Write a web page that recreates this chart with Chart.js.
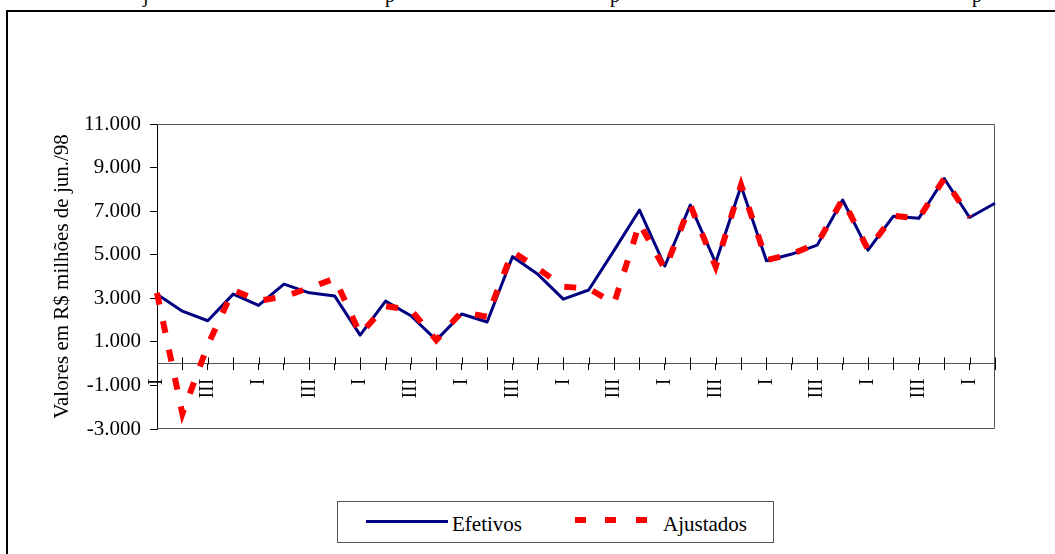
<!DOCTYPE html>
<html>
<head>
<meta charset="utf-8">
<script src="https://cdn.jsdelivr.net/npm/chart.js@4.4.3/dist/chart.umd.min.js"></script>
<style>
  html, body { margin: 0; padding: 0; background: #fff; overflow: hidden; }
  #wrap { position: relative; width: 1055px; height: 554px; overflow: hidden; font-family: 'Liberation Serif', serif; color: #000; }
  #frame { position: absolute; left: 6px; top: 10px; width: 1200px; height: 700px; border-left: 2px solid #000; border-top: 2px solid #000; }
  #chart { position: absolute; left: 0; top: 0; }
  .cut { position: absolute; top: -15px; font-size: 20px; line-height: 20px; }
  #legend { position: absolute; left: 337px; top: 501px; width: 435px; height: 40px; border: 1px solid #555; background: #fff; font-size: 21px; line-height: 21px; }
  #legend .txt { position: absolute; top: 12px; }
  #legend .solid { position: absolute; left: 28px; top: 18px; width: 82px; height: 3px; background: #000080; }
  #legend .dash { position: absolute; top: 15px; width: 11px; height: 6px; background: #ff0000; }
</style>
</head>
<body>
<div id="wrap">
  <span class="cut" style="left:143px">j</span>
  <span class="cut" style="left:385px">p</span>
  <span class="cut" style="left:610px">p</span>
  <span class="cut" style="left:972px">p</span>
  <div id="frame"></div>
  <canvas id="chart" width="1055" height="554"></canvas>
  <div id="legend">
    <div class="solid"></div>
    <span class="txt" style="left:114px">Efetivos</span>
    <div class="dash" style="left:237px"></div>
    <div class="dash" style="left:267px"></div>
    <div class="dash" style="left:298px"></div>
    <span class="txt" style="left:325px">Ajustados</span>
  </div>
</div>
<script>
// trimestres (I a IV), a partir do 1º trimestre
const quarters = [
  'I', 'II', 'III', 'IV', 'I', 'II', 'III', 'IV', 'I', 'II', 'III', 'IV',
  'I', 'II', 'III', 'IV', 'I', 'II', 'III', 'IV', 'I', 'II', 'III', 'IV',
  'I', 'II', 'III', 'IV', 'I', 'II', 'III', 'IV', 'I', 'II'
];

const efetivos = [
  3180, 2410, 1970, 3190, 2670, 3650, 3250, 3100, 1310, 2870, 2200, 1080,
  2280, 1910, 4910, 4100, 2960, 3380, 5200, 7050, 4480, 7280, 4630, 8150,
  4720, 5030, 5440, 7510, 5210, 6770, 6670, 8500, 6710, 7360
];

const ajustados = [
  3250, -2300, 850, 3380, 2890, 3070, 3480, 3910, 1360, 2640, 2460, 1080,
  2380, 2150, 5140, 4370, 3530, 3450, 2770, 6440, 4330, 7280, 4450, 8200,
  4750, 5030, 5520, 7540, 5240, 6790, 6670, 8500, 6710, null
];

const yTitle = 'Valores em R$ milhões de jun./98';
const font = { family: "'Liberation Serif', serif", size: 20 };

function fmt(v) {
  return String(v).replace(/\B(?=(\d{3})+(?!\d))/g, '.');
}

// moldura da área do gráfico + traços acima da linha do zero
const framePlugin = {
  id: 'frame',
  beforeDatasetsDraw(chart) {
    const { ctx, chartArea: a, scales } = chart;
    ctx.save();
    ctx.lineWidth = 1;
    ctx.strokeStyle = '#555';
    ctx.beginPath();
    ctx.moveTo(a.left, a.top + 0.5);
    ctx.lineTo(a.right - 0.5, a.top + 0.5);
    ctx.lineTo(a.right - 0.5, a.bottom - 0.5);
    ctx.lineTo(a.left, a.bottom - 0.5);
    ctx.stroke();

    const y0 = Math.round(scales.y.getPixelForValue(0)) + 0.5;
    ctx.strokeStyle = '#000';
    ctx.beginPath();
    quarters.forEach((q, i) => {
      const x = Math.round(scales.x.getPixelForValue(i)) + 0.5;
      ctx.moveTo(x, y0 - 7);
      ctx.lineTo(x, y0);
    });
    ctx.stroke();
    ctx.restore();
  }
};

new Chart(document.getElementById('chart'), {
  type: 'line',
  data: {
    labels: quarters,
    datasets: [
      {
        label: 'Efetivos',
        data: efetivos,
        borderColor: '#000080',
        borderWidth: 3,
        borderJoinStyle: 'round',
        pointRadius: 0,
        tension: 0,
        order: 1
      },
      {
        label: 'Ajustados',
        data: ajustados,
        borderColor: '#ff0000',
        borderWidth: 6,
        borderDash: [12, 17],
        borderCapStyle: 'butt',
        pointRadius: 0,
        tension: 0,
        order: 0
      }
    ]
  },
  options: {
    responsive: false,
    animation: false,
    devicePixelRatio: 1,
    layout: {
      autoPadding: false,
      padding: { left: 50, top: 124, right: 60, bottom: 125 }
    },
    plugins: {
      legend: { display: false },
      tooltip: { enabled: false }
    },
    scales: {
      x: {
        type: 'category',
        position: { y: 0 },
        offset: false,
        grid: { drawOnChartArea: false, tickLength: 6, color: '#000' },
        border: { color: '#555', width: 1 },
        ticks: {
          autoSkip: false,
          minRotation: 90,
          maxRotation: 90,
          padding: 9,
          color: '#000',
          font,
          callback(value) {
            const l = this.getLabelForValue(value);
            return (l === 'I' || l === 'III') ? l : '';
          }
        },
        afterFit(s) { s.paddingLeft = 0; s.paddingRight = 0; }
      },
      y: {
        min: -3000,
        max: 11000,
        grid: { drawOnChartArea: false, tickLength: 7, color: '#000' },
        border: { color: '#000', width: 1 },
        ticks: {
          stepSize: 2000,
          padding: 9,
          color: '#000',
          font: { family: font.family, size: 21 },
          callback: v => fmt(v)
        },
        title: { display: true, text: yTitle, color: '#000', font: { family: font.family, size: 21 }, padding: 0 },
        afterFit(s) { s.width = 107; s.paddingTop = 0; s.paddingBottom = 0; }
      }
    }
  },
  plugins: [framePlugin]
});
</script>
</body>
</html>
